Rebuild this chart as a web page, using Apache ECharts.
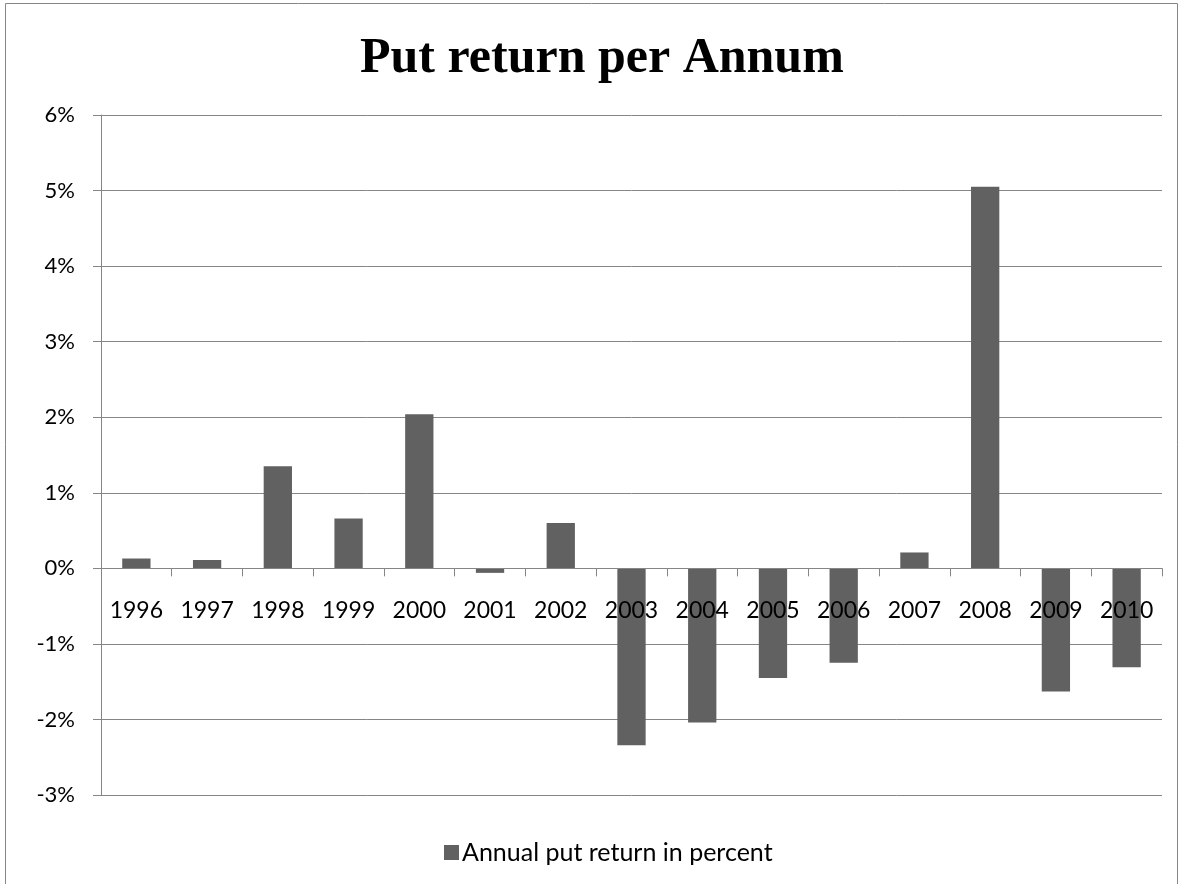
<!DOCTYPE html>
<html>
<head>
<meta charset="utf-8">
<script src="https://cdn.jsdelivr.net/npm/echarts@6/dist/echarts.min.js"></script>
<style>html,body{margin:0;padding:0;background:#fff;}#c{width:1184px;height:884px;}</style>
</head>
<body>
<div id="c"></div>
<script>
const years = ['1996','1997','1998','1999','2000','2001','2002','2003','2004','2005','2006','2007','2008','2009','2010'];
const putReturn = [0.13, 0.11, 1.35, 0.66, 2.04, -0.06, 0.6, -2.34, -2.04, -1.45, -1.25, 0.21, 5.05, -1.63, -1.31];
const yTicks = { min: -3, max: 6, step: 1 };
const seriesName = 'Annual put return in percent';
const titleText = 'Put return per Annum';

const gridTop = 115, gridBottom = 89, H = 884;
const plotH = H - gridTop - gridBottom;
const zeroOffset = -plotH * (0 - yTicks.min) / (yTicks.max - yTicks.min);

const chart = echarts.init(document.getElementById('c'), null, {renderer: 'canvas'});
const font = 'Lato, "Open Sans", sans-serif';
chart.setOption({
  animation: false,
  backgroundColor: '#fff',
  textStyle: {fontFamily: font},
  graphic: [{
    type: 'rect', shape: {x: 5.5, y: 3.5, width: 1172, height: 900},
    style: {fill: 'none', stroke: '#868686', lineWidth: 1}, silent: true
  }],
  title: {
    text: titleText, left: 355, top: 29,
    textStyle: {fontFamily: '"Liberation Serif", serif', fontWeight: 'bold', fontSize: 50, color: '#000'}
  },
  legend: {
    data: [seriesName], left: 439, top: 835, icon: 'rect', itemWidth: 15, itemHeight: 15, itemGap: 5,
    textStyle: {fontFamily: font, fontSize: 25, color: '#000', padding: [0,0,0,-2]}
  },
  grid: {left: 101, right: 22, top: gridTop, bottom: gridBottom, containLabel: false},
  xAxis: {
    type: 'category', data: years, z: 10, position: 'bottom', offset: zeroOffset,
    axisLine: {onZero: false, lineStyle: {color: '#868686', width: 1}},
    axisTick: {show: true, length: 8, lineStyle: {color: '#868686'}},
    axisLabel: {color: '#000', fontSize: 23, margin: 31, fontFamily: font, interval: 0},
    splitLine: {show: false}
  },
  yAxis: {
    type: 'value', min: yTicks.min, max: yTicks.max, interval: yTicks.step,
    axisLine: {show: true, lineStyle: {color: '#868686'}},
    axisTick: {show: true, length: 8, lineStyle: {color: '#868686'}},
    axisLabel: {color: '#000', fontSize: 22, margin: 26, formatter: '{value}%', fontFamily: font},
    splitLine: {show: true, lineStyle: {color: '#868686', width: 1}}
  },
  series: [{
    name: seriesName, type: 'bar', data: putReturn, barWidth: '40%',
    itemStyle: {color: '#616161'}
  }]
});
</script>
</body>
</html>
